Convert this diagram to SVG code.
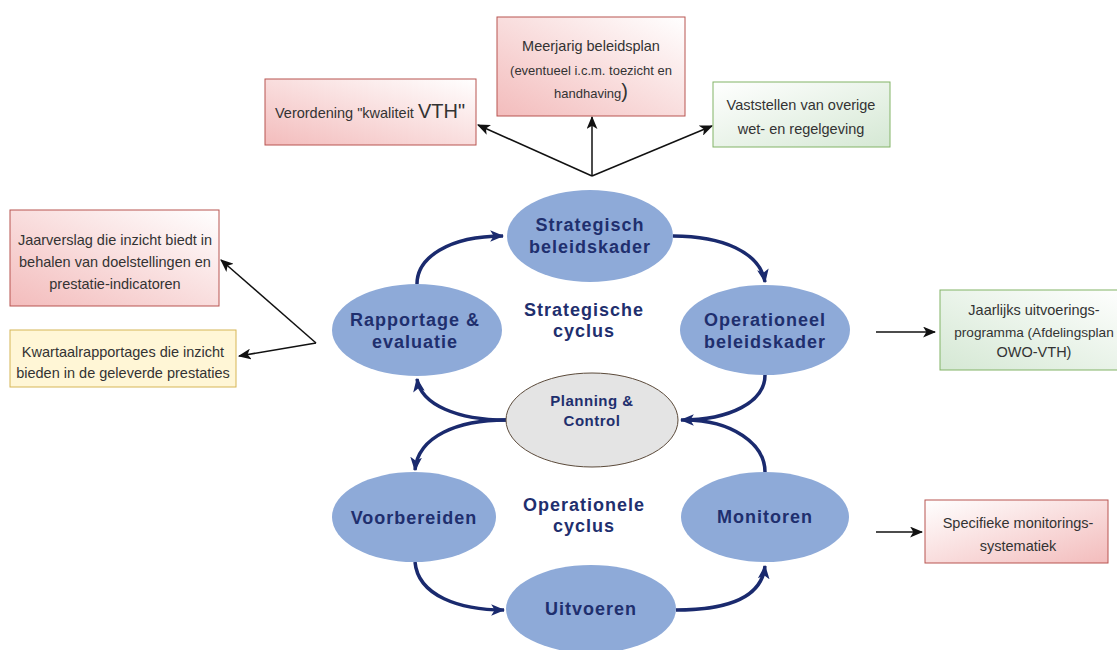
<svg xmlns="http://www.w3.org/2000/svg" width="1117" height="650" viewBox="0 0 1117 650">
<style>
.box text{font-family:"Liberation Sans",Arial,sans-serif;font-size:14.5px;fill:#333;text-anchor:middle}
.ell{fill:#8eaad8}
.lbl{font-family:"Liberation Sans",Arial,sans-serif;font-weight:bold;font-size:18px;letter-spacing:1px;fill:#1f2f6e;text-anchor:middle}
.pc{font-size:15px;letter-spacing:0.5px}
.cyc{fill:none;stroke:#1a2a6e;stroke-width:3.5}
.blk{fill:none;stroke:#111;stroke-width:1.5}
.pink{stroke:#b85450;stroke-width:1}
.green{stroke:#82b366;stroke-width:1}
</style>
<defs>
<linearGradient id="gPinkL" x1="0" y1="1" x2="1" y2="0"><stop offset="0" stop-color="#f3bcbc"/><stop offset="1" stop-color="#ffffff"/></linearGradient>
<linearGradient id="gPinkR" x1="0" y1="0" x2="1" y2="1"><stop offset="0" stop-color="#ffffff"/><stop offset="1" stop-color="#f3bcbc"/></linearGradient>
<linearGradient id="gGreen" x1="0" y1="0" x2="1" y2="1"><stop offset="0" stop-color="#ffffff"/><stop offset="1" stop-color="#d5e8d4"/></linearGradient>
<linearGradient id="gGreenL" x1="1" y1="0" x2="0" y2="1"><stop offset="0" stop-color="#ffffff"/><stop offset="1" stop-color="#d5e8d4"/></linearGradient>
<marker id="aNavy" viewBox="0 0 12 10" refX="11" refY="5" markerWidth="14" markerHeight="12" markerUnits="userSpaceOnUse" orient="auto"><path d="M0,0 L12,5 L0,10 L3,5 z" fill="#1a2a6e"/></marker>
<marker id="aBlk" viewBox="0 0 12 10" refX="11" refY="5" markerWidth="13" markerHeight="11" markerUnits="userSpaceOnUse" orient="auto"><path d="M0,0 L12,5 L0,10 L3,5 z" fill="#111"/></marker>
</defs>
<rect width="1117" height="650" fill="#ffffff"/>

<g id="connectors">
<path class="cyc" d="M417,284 C417,258 448,236 503,236" marker-end="url(#aNavy)"/>
<path class="cyc" d="M673,236 C722,236 760,252 765,282" marker-end="url(#aNavy)"/>
<path class="cyc" d="M765,375 C765,402 730,420 681,420" marker-end="url(#aNavy)"/>
<path class="cyc" d="M765,472 C765,444 732,420 685,420"/>
<path class="cyc" d="M506,420 C458,420 421,405 417,379" marker-end="url(#aNavy)"/>
<path class="cyc" d="M506,420 C458,420 418,436 415,470" marker-end="url(#aNavy)"/>
<path class="cyc" d="M415,562 C418,596 460,610 504,610" marker-end="url(#aNavy)"/>
<path class="cyc" d="M676,610 C730,610 762,596 765,566" marker-end="url(#aNavy)"/>
<path class="blk" d="M592,176 L592,117" marker-end="url(#aBlk)"/>
<path class="blk" d="M592,176 L478,125" marker-end="url(#aBlk)"/>
<path class="blk" d="M592,176 L712,126" marker-end="url(#aBlk)"/>
<path class="blk" d="M316,343 L221,260" marker-end="url(#aBlk)"/>
<path class="blk" d="M316,343 L239,356" marker-end="url(#aBlk)"/>
<path class="blk" d="M876,332 L935,332" marker-end="url(#aBlk)"/>
<path class="blk" d="M876,532 L922,532" marker-end="url(#aBlk)"/>
</g>

<g id="n-verordening" class="box"><rect x="265" y="79" width="211" height="66" fill="url(#gPinkL)" class="pink"/><text x="370" y="118">Verordening "kwaliteit <tspan style="font-size:20px">VTH"</tspan></text></g>
<g id="n-meerjarig" class="box"><rect x="497" y="17" width="188" height="99" fill="url(#gPinkL)" class="pink"/><text x="591" y="51">Meerjarig beleidsplan</text><text x="591" y="75" style="font-size:13px">(eventueel i.c.m. toezicht en</text><text x="591" y="98" style="font-size:13px">handhaving<tspan style="font-size:20px">)</tspan></text></g>
<g id="n-vaststellen" class="box"><rect x="713" y="82" width="177" height="65" fill="url(#gGreen)" class="green"/><text x="801" y="110">Vaststellen van overige</text><text x="801" y="134">wet- en regelgeving</text></g>
<g id="n-jaarverslag" class="box"><rect x="10" y="210" width="209" height="96" fill="url(#gPinkL)" class="pink"/><text x="115" y="245">Jaarverslag die inzicht biedt in</text><text x="115" y="267">behalen van doelstellingen en</text><text x="115" y="289">prestatie-indicatoren</text></g>
<g id="n-kwartaal" class="box"><rect x="10" y="330" width="226" height="57" fill="#fff6d6" stroke="#d6b656" stroke-width="1"/><text x="123" y="357">Kwartaalrapportages die inzicht</text><text x="123" y="378">bieden in de geleverde prestaties</text></g>
<g id="n-jaarlijks" class="box"><rect x="940" y="290" width="190" height="80" fill="url(#gGreenL)" class="green"/><text x="1034" y="315">Jaarlijks uitvoerings-</text><text x="1034" y="337" style="font-size:13.6px">programma (Afdelingsplan</text><text x="1034" y="357">OWO-VTH)</text></g>
<g id="n-specifieke" class="box"><rect x="925" y="500" width="183" height="63" fill="url(#gPinkR)" class="pink"/><text x="1018" y="528">Specifieke monitorings-</text><text x="1018" y="551">systematiek</text></g>

<g id="n-strategisch"><ellipse class="ell" cx="590" cy="236" rx="83" ry="46"/><text class="lbl" x="590" y="231">Strategisch</text><text class="lbl" x="590" y="253">beleidskader</text></g>
<g id="n-rapportage"><ellipse class="ell" cx="417" cy="330" rx="85" ry="46"/><text class="lbl" x="415" y="326">Rapportage &amp;</text><text class="lbl" x="415" y="348">evaluatie</text></g>
<g id="n-operationeel"><ellipse class="ell" cx="765" cy="330" rx="85" ry="45"/><text class="lbl" x="765" y="326">Operationeel</text><text class="lbl" x="765" y="348">beleidskader</text></g>
<g id="n-planning"><ellipse cx="592" cy="420" rx="86" ry="47" fill="#e4e4e4" stroke="#5b4a3a" stroke-width="1"/><text class="lbl pc" x="592" y="406">Planning &amp;</text><text class="lbl pc" x="592" y="426">Control</text></g>
<g id="n-voorbereiden"><ellipse class="ell" cx="414" cy="517" rx="82" ry="45"/><text class="lbl" x="414" y="524">Voorbereiden</text></g>
<g id="n-monitoren"><ellipse class="ell" cx="765" cy="517" rx="84" ry="45"/><text class="lbl" x="765" y="523">Monitoren</text></g>
<g id="n-uitvoeren"><ellipse class="ell" cx="591" cy="609" rx="85" ry="44"/><text class="lbl" x="591" y="615">Uitvoeren</text></g>
<g id="labels"><text class="lbl" x="584" y="316">Strategische</text><text class="lbl" x="584" y="337">cyclus</text><text class="lbl" x="584" y="511">Operationele</text><text class="lbl" x="584" y="532">cyclus</text></g>
</svg>
